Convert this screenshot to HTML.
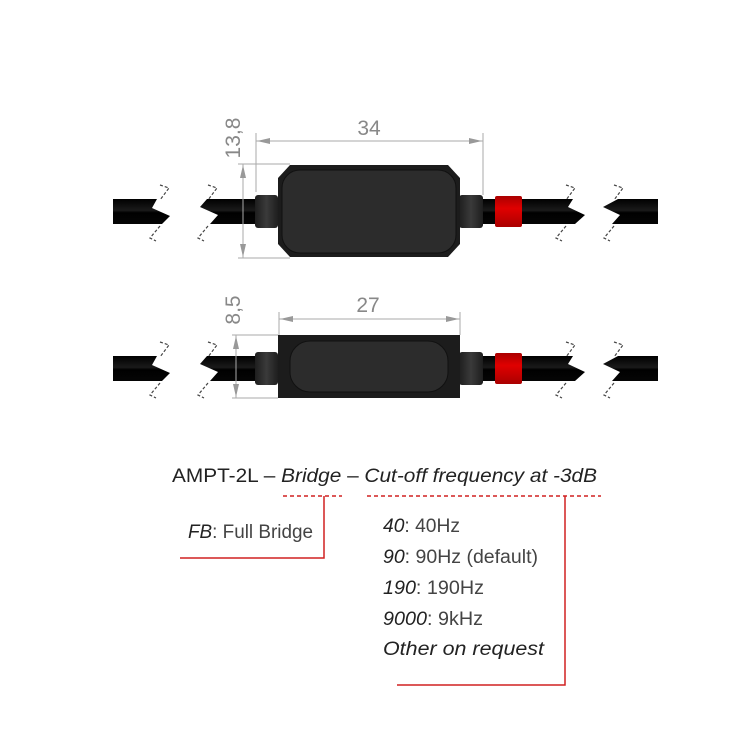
<!DOCTYPE html>
<html><head><meta charset="utf-8"><style>
html,body{margin:0;padding:0;background:#fff;width:740px;height:740px;overflow:hidden}
svg{display:block}
text{font-family:"Liberation Sans",sans-serif}
</style></head><body>
<svg width="740" height="740" viewBox="0 0 740 740" xmlns="http://www.w3.org/2000/svg">
<defs>
<linearGradient id="cab" x1="0" y1="0" x2="0" y2="1">
<stop offset="0" stop-color="#000"/><stop offset="0.45" stop-color="#1a1a1a"/><stop offset="0.55" stop-color="#000"/><stop offset="1" stop-color="#050505"/></linearGradient>
<linearGradient id="fer" x1="0" y1="0" x2="1" y2="0">
<stop offset="0" stop-color="#1e1e1e"/><stop offset="0.5" stop-color="#3a3a3a"/><stop offset="1" stop-color="#1e1e1e"/></linearGradient>
<linearGradient id="red" x1="0" y1="0" x2="0" y2="1">
<stop offset="0" stop-color="#a00"/><stop offset="0.4" stop-color="#e00000"/><stop offset="1" stop-color="#a00"/></linearGradient>
<g id="cables">
<polygon points="113,0 157,0 152,9 170,17 162,25 113,25" fill="url(#cab)"/>
<polygon points="207,0 255,0 255,25 210,25 218,16 200,8" fill="url(#cab)"/>
<polygon points="460,0 573,0 568,8 585,16 575,25 460,25" fill="url(#cab)"/>
<polygon points="618,0 658,0 658,25 612,25 620,16 603,8" fill="url(#cab)"/>
<path d="M160,-14 l9,3 l-9,12 M160,27 l-10,12 l6,3 M208,-14 l9,3 l-9,12 M208,27 l-10,12 l6,3 M566,-14 l9,3 l-9,12 M566,27 l-10,12 l6,3 M614,-14 l9,3 l-9,12 M614,27 l-10,12 l6,3" stroke="#444" stroke-width="1.2" fill="none" stroke-dasharray="3,2"/>
<rect x="255" y="-4" width="23" height="33" rx="3" fill="url(#fer)"/>
<rect x="459" y="-4" width="24" height="33" rx="3" fill="url(#fer)"/>
<rect x="495" y="-3" width="27" height="31" rx="2" fill="url(#red)"/>
</g>
</defs>
<use href="#cables" transform="translate(0,199)"/>
<path d="M290,165 L448,165 L460,178 L460,244 L448,257 L290,257 L278,244 L278,178 Z" fill="#1c1c1c"/>
<rect x="282" y="170" width="174" height="83" rx="18" fill="#2c2c2c" stroke="#111" stroke-width="1"/>
<use href="#cables" transform="translate(0,356)"/>
<rect x="278" y="335" width="182" height="63" fill="#1c1c1c"/>
<rect x="290" y="341" width="158" height="51" rx="20" fill="#2c2c2c" stroke="#111" stroke-width="1"/>
<g stroke="#aaa" stroke-width="1" fill="none">
<line x1="256" y1="133" x2="256" y2="192"/>
<line x1="483" y1="133" x2="483" y2="195"/>
<line x1="256" y1="141" x2="483" y2="141"/>
<line x1="238" y1="164" x2="290" y2="164"/>
<line x1="238" y1="258" x2="290" y2="258"/>
<line x1="243" y1="164" x2="243" y2="258"/>
<line x1="279" y1="312" x2="279" y2="335"/>
<line x1="460" y1="312" x2="460" y2="335"/>
<line x1="279" y1="319" x2="460" y2="319"/>
<line x1="232" y1="335" x2="278" y2="335"/>
<line x1="232" y1="398" x2="278" y2="398"/>
<line x1="236" y1="335" x2="236" y2="398"/>
</g>
<g fill="#999">
<polygon points="257,141 270,138 270,144"/><polygon points="482,141 469,138 469,144"/>
<polygon points="243,165 240,178 246,178"/><polygon points="243,257 240,244 246,244"/>
<polygon points="280,319 293,316 293,322"/><polygon points="459,319 446,316 446,322"/>
<polygon points="236,336 233,349 239,349"/><polygon points="236,397 233,384 239,384"/>
</g>
<g fill="#888" font-size="21">
<text x="369" y="135" text-anchor="middle">34</text>
<text x="368" y="312" text-anchor="middle">27</text>
<text transform="translate(240,138) rotate(-90)" text-anchor="middle">13,8</text>
<text transform="translate(240,310) rotate(-90)" text-anchor="middle">8,5</text>
</g>
<g fill="#222" font-size="19">
<text x="172" y="482" textLength="425" lengthAdjust="spacingAndGlyphs">AMPT-2L – <tspan font-style="italic">Bridge</tspan> – <tspan font-style="italic">Cut-off frequency at -3dB</tspan></text>
<text x="188" y="538" textLength="125" lengthAdjust="spacingAndGlyphs"><tspan font-style="italic">FB</tspan><tspan fill="#444">: Full Bridge</tspan></text>
<text x="383" y="532" textLength="77" lengthAdjust="spacingAndGlyphs"><tspan font-style="italic">40</tspan><tspan fill="#444">: 40Hz</tspan></text>
<text x="383" y="563" textLength="155" lengthAdjust="spacingAndGlyphs"><tspan font-style="italic">90</tspan><tspan fill="#444">: 90Hz (default)</tspan></text>
<text x="383" y="594" textLength="101" lengthAdjust="spacingAndGlyphs"><tspan font-style="italic">190</tspan><tspan fill="#444">: 190Hz</tspan></text>
<text x="383" y="625" textLength="100" lengthAdjust="spacingAndGlyphs"><tspan font-style="italic">9000</tspan><tspan fill="#444">: 9kHz</tspan></text>
<text x="383" y="655" font-style="italic" textLength="161" lengthAdjust="spacingAndGlyphs">Other on request</text>
</g>
<g stroke="#d02020" stroke-width="1.5" fill="none">
<line x1="283" y1="496" x2="342" y2="496" stroke-dasharray="4,3"/>
<line x1="367" y1="496" x2="601" y2="496" stroke-dasharray="4,3"/>
<polyline points="324,496 324,558 180,558"/>
<polyline points="565,496 565,685 397,685"/>
</g>
</svg>
</body></html>
